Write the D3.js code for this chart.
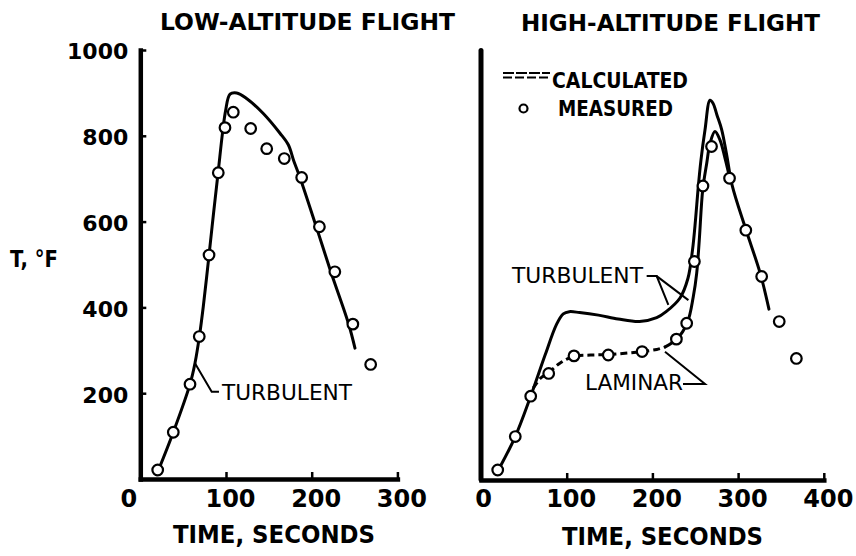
<!DOCTYPE html>
<html><head><meta charset="utf-8">
<script src="https://cdn.jsdelivr.net/npm/d3@7/dist/d3.min.js"></script>
<style>body{margin:0;background:#fff}svg{display:block}</style>
</head><body>
<svg id="c" width="856" height="556"></svg>
<script>
// ---- tick labels ----
const yTicks = [200, 400, 600, 800, 1000];
const lowXTicks = [0, 100, 200, 300];
const highXTicks = [0, 100, 200, 300, 400];

// ---- LOW-ALTITUDE FLIGHT ----
const lowMeasTime = [20.3, 38.5, 58, 68.8, 80.2, 91, 98.8, 108.5, 128.8, 147.5, 168, 188.3, 209, 227, 248, 268.8];
const lowMeasTemp = [21, 109, 221, 332, 522, 714, 819, 855, 817, 770, 747, 703, 588, 483, 361, 267];
const lowTurbTime = [19, 38.5, 58, 64, 69, 73.5, 80.2, 85.5, 91, 96, 99.5, 104.7, 112.5, 124, 143.5, 163, 172.7, 179, 186.3, 205, 222, 243, 250.5];
const lowTurbTemp = [10, 109, 221, 272, 333, 402, 522, 620, 718, 808, 858, 897, 900, 887, 852, 806, 779, 742, 703, 590, 485, 362, 305];

// ---- HIGH-ALTITUDE FLIGHT ----
const highMeasTime = [19.5, 40, 58, 79, 108.5, 148.5, 188, 228, 240, 249, 259, 269, 290, 309, 327.5, 348, 368];
const highMeasTemp = [21, 99, 193, 246, 287, 289, 297, 326, 363, 507, 683, 775, 701, 580, 472, 367, 281];
const highTurbTime = [19.5, 40, 58, 75, 88, 96, 103, 115, 137, 160, 185, 205, 216, 232.2, 241.5, 246.8, 250.3, 253.2, 256.7, 261.4, 267.2, 270.7, 275.4, 280.9, 286.7, 293, 309, 326, 336];
const highTurbTemp = [18, 99, 193, 290, 360, 385, 390, 388, 382, 373, 367, 376, 390, 422, 468, 534, 604, 674, 744, 814, 883, 876, 848, 814, 755, 685, 582, 478, 396];
const highLamDashTime = [61, 70, 79, 92, 108.5, 128, 148.5, 168, 188, 205, 215];
const highLamDashTemp = [212, 236, 248, 270, 286, 289, 290, 293, 297, 302, 308];
const highLamSolidTime = [215, 228.4, 240.7, 247.7, 251.7, 254.7, 258.7, 263.4, 267.2, 273, 278.9, 284.7, 291];
const highLamSolidTemp = [308, 326, 364, 425, 480, 557, 674, 736, 782, 810, 790, 748, 695];

// ---- annotation leaders (data units) ----
const lowTurbLeader = [[63.8, 270], [83.3, 203.5], [91.8, 203.5]];
const highTurbLeaderA = [[193.3, 473], [205, 473], [218.6, 405.6]];
const highTurbLeaderB = [[205, 473], [242, 417]];
const highLamLeader = [[235.7, 221.4], [261.4, 221.4], [214.7, 296.7]];

const svg = d3.select("#c");
const FONT = "'DejaVu Sans', 'Liberation Sans', sans-serif";

const y = d3.scaleLinear().domain([0, 1000]).range([479, 50]);
const xLow = d3.scaleLinear().domain([0, 300]).range([140.3, 397.4]);
const xHigh = d3.scaleLinear().domain([0, 400]).range([481, 823.8]);

function txt(s, x, yb, size, len, weight, anchor) {
  const t = svg.append("text").attr("x", x).attr("y", yb)
    .attr("font-family", FONT).attr("font-size", size)
    .attr("font-weight", weight || "bold").attr("fill", "#000")
    .attr("text-anchor", anchor || "start").text(s);
  if (len) t.attr("textLength", len).attr("lengthAdjust", "spacingAndGlyphs");
  return t;
}

// titles & axis labels
txt("LOW-ALTITUDE FLIGHT", 160, 30, 23, 295);
txt("HIGH-ALTITUDE FLIGHT", 521, 31, 23, 299);
txt("T, °F", 10, 267, 23, 48);
txt("TIME, SECONDS", 173, 543, 24, 202);
txt("TIME, SECONDS", 562, 545, 24, 201);

// x axes
function styleAxis(g, w) {
  g.select(".domain").attr("stroke", "#000").attr("stroke-width", w).attr("stroke-linecap", "square");
  g.selectAll(".tick line").attr("stroke", "#000").attr("stroke-width", 2.5);
  g.selectAll(".tick text").attr("font-family", FONT).attr("font-weight", "bold").attr("fill", "#000");
}
const gxL = svg.append("g").attr("transform", "translate(0,479)")
  .call(d3.axisBottom(xLow).tickValues(lowXTicks).tickSizeInner(-7).tickSizeOuter(0).tickPadding(11).tickFormat(d3.format("d")));
styleAxis(gxL, 4.5);
gxL.selectAll(".tick text").attr("font-size", 24).attr("dx", d => d === 0 ? -12 : 4);

const gxH = svg.append("g").attr("transform", "translate(0,480)")
  .call(d3.axisBottom(xHigh).tickValues(highXTicks).tickSizeInner(-7).tickSizeOuter(0).tickPadding(10).tickFormat(d3.format("d")));
styleAxis(gxH, 4.5);
gxH.selectAll(".tick text").attr("font-size", 24).attr("dx", d => d === 0 ? 2 : 4);

// y axes
const gyL = svg.append("g").attr("transform", "translate(140.3,0)")
  .call(d3.axisLeft(y).tickValues(yTicks).tickSizeInner(-6).tickSizeOuter(0).tickPadding(12).tickFormat(d3.format("d")));
styleAxis(gyL, 4.5);
gyL.selectAll(".tick text").attr("font-size", 22).attr("dy", "0.4em");

const gyH = svg.append("g").attr("transform", "translate(480.5,0)")
  .call(d3.axisLeft(y).tickValues([]).tickSizeOuter(0));
gyH.select(".domain").attr("stroke", "#000").attr("stroke-width", 5).attr("stroke-linecap", "round");

// curves
function curve(xs, times, temps, dash) {
  const pts = times.map((t, i) => [t, temps[i]]);
  const line = d3.line().x(d => xs(d[0])).y(d => y(d[1])).curve(d3.curveCatmullRom.alpha(0.5));
  const p = svg.append("path").attr("d", line(pts)).attr("fill", "none")
    .attr("stroke", "#000").attr("stroke-width", 3).attr("stroke-linejoin", "round").attr("stroke-linecap", "round");
  if (dash) p.attr("stroke-dasharray", dash).attr("stroke-linecap", "butt");
}
function leader(xs, pts) {
  svg.append("path").attr("d", d3.line().x(d => xs(d[0])).y(d => y(d[1]))(pts))
    .attr("fill", "none").attr("stroke", "#000").attr("stroke-width", 2);
}
function dots(xs, times, temps) {
  svg.append("g").selectAll("circle").data(times.map((t, i) => [t, temps[i]])).join("circle")
    .attr("cx", d => xs(d[0])).attr("cy", d => y(d[1])).attr("r", 5.3)
    .attr("fill", "#fff").attr("stroke", "#000").attr("stroke-width", 2.2);
}

curve(xLow, lowTurbTime, lowTurbTemp);
curve(xHigh, highTurbTime, highTurbTemp);
curve(xHigh, highLamDashTime, highLamDashTemp, "7,4");
curve(xHigh, highLamSolidTime, highLamSolidTemp);

leader(xLow, lowTurbLeader);
leader(xHigh, highTurbLeaderA);
leader(xHigh, highTurbLeaderB);
leader(xHigh, highLamLeader);

dots(xLow, lowMeasTime, lowMeasTemp);
dots(xHigh, highMeasTime, highMeasTemp);

// annotation labels
txt("TURBULENT", 222, 400, 22, 130, "normal");
txt("TURBULENT", 512, 283, 22, 131, "normal");
txt("LAMINAR", 585, 390, 22, 98, "normal");

// legend
svg.append("line").attr("x1", 503).attr("x2", 550).attr("y1", 73).attr("y2", 73)
  .attr("stroke", "#000").attr("stroke-width", 2).attr("stroke-dasharray", "11,2");
svg.append("line").attr("x1", 503).attr("x2", 550).attr("y1", 77.5).attr("y2", 77.5)
  .attr("stroke", "#000").attr("stroke-width", 2).attr("stroke-dasharray", "9,3");
txt("CALCULATED", 552, 88, 22, 136);
svg.append("circle").attr("cx", 523.5).attr("cy", 108.5).attr("r", 4)
  .attr("fill", "#fff").attr("stroke", "#000").attr("stroke-width", 2.2);
txt("MEASURED", 558, 116, 22, 115);
</script>
</body></html>
